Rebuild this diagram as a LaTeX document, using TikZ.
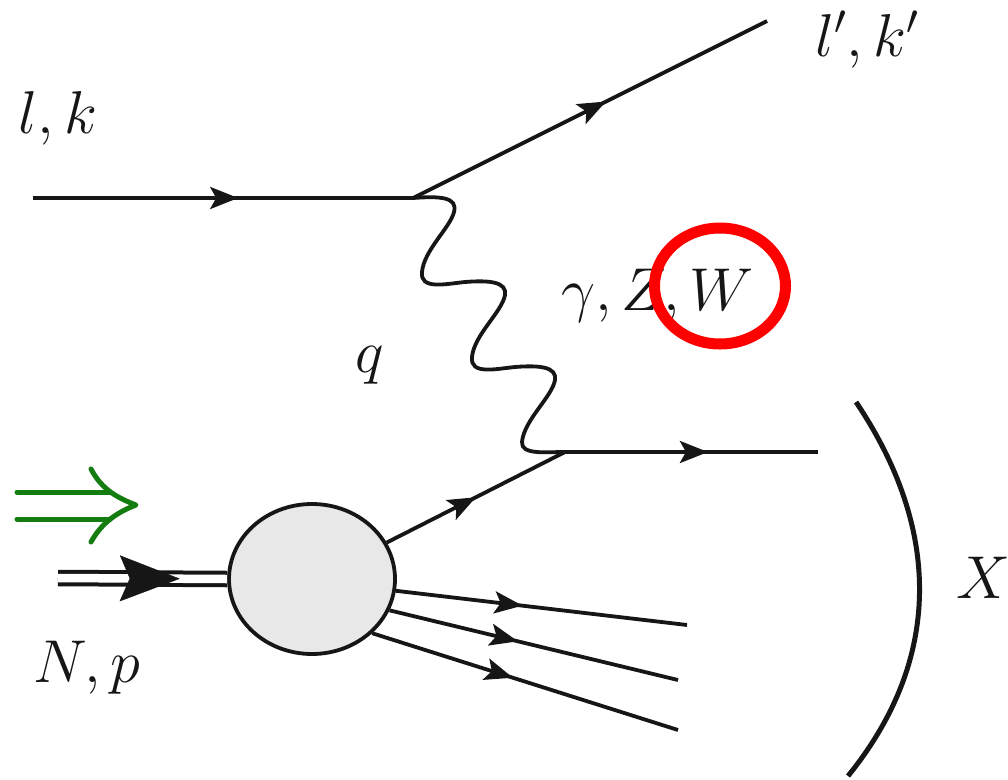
\documentclass[tikz,border=0pt]{standalone}
\usepackage{fix-cm}
\usetikzlibrary{arrows.meta,decorations.markings,shapes.geometric}
\definecolor{inkblack}{RGB}{22,22,22}
\definecolor{polgreen}{RGB}{20,125,15}
\definecolor{ringred}{RGB}{255,0,0}
\tikzset{
  line/.style={draw=inkblack, line width=3.8pt},
  fermion/.style={line, postaction={decorate}, decoration={markings,
    mark=at position #1 with {\arrow[inkblack]{Stealth[length=28pt,width=22pt,inset=6pt]}}}},
  polline/.style={draw=polgreen, line width=5pt, line cap=round, line join=round},
  mathlabel/.style={inner sep=0pt, text=inkblack, font=\fontsize{60.5}{72}\selectfont},
}
\begin{document}
\begin{tikzpicture}[x=1pt,y=-1pt]
\useasboundingbox (0,0) rectangle (1008,779);
% vertices
\coordinate (in) at (33,198);
\coordinate (v1) at (413,198);
\coordinate (out) at (767,21);
\coordinate (v2) at (565,452);
\coordinate (jet) at (818,452);
\coordinate (nuc) at (58,578);
\coordinate (hada) at (687,625);
\coordinate (hadb) at (678,680);
\coordinate (hadc) at (678,730);
\coordinate (pola) at (17,492);
\coordinate (polb) at (17,519);
\coordinate (polc) at (110,492);
\coordinate (pold) at (110,519);
\coordinate (tipa) at (91,469);
\coordinate (tipb) at (136,505);
\coordinate (tipc) at (91,542);
\coordinate (xa) at (856,402);
\coordinate (xb) at (848,776);
% blob
\node[ellipse, draw=inkblack, line width=3.8pt, fill=black!9, minimum width=166pt, minimum height=150pt, inner sep=0pt] (blob) at (312,579) {};
% lines
\draw[fermion=0.54] (in) -- (v1);
\draw[fermion=0.545] (v1) -- (out);
\draw[fermion=0.565] (v2) -- (jet);
\draw[fermion=0.5] (blob.26) -- (v2);
\draw[fermion=0.435] (blob.-8) -- (hada);
\draw[fermion=0.445] (blob.-22) -- (hadb);
\draw[fermion=0.46] (blob.-42) -- (hadc);
\draw[draw=inkblack, line width=4pt, double=white, double distance=8.5pt] (nuc) -- (blob.west);
\path[postaction={decorate}, decoration={markings, mark=at position 0.72 with {\arrow[inkblack]{Stealth[length=60pt,width=46pt,inset=10pt]}}}] (nuc) -- (blob.west);
% boson
\draw[line, line cap=round] (v1) .. controls (440,196) and (458,197) .. (454,212)
  .. controls (450,228) and (424,250) .. (422,272)
  .. controls (420,290) and (445,284) .. (465,282)
  .. controls (490,280) and (507,282) .. (505,295)
  .. controls (502,312) and (474,335) .. (472,357)
  .. controls (470,375) and (495,369) .. (515,367)
  .. controls (540,365) and (557,367) .. (555,380)
  .. controls (552,397) and (524,420) .. (522,442)
  .. controls (521,455) and (545,452) .. (v2);
% spin arrow
\draw[polline] (pola) -- (polc);
\draw[polline] (polb) -- (pold);
\draw[polline] (tipa) .. controls (102,490) and (118,498) .. (tipb) .. controls (118,512) and (102,522) .. (tipc);
% X bracket
\draw[draw=inkblack, line width=5pt] (xa) .. controls (942,530) and (942,660) .. (xb);
% labels
\node[mathlabel] (lk) at (58,118) {$l,k$};
\node[mathlabel] (lkp) at (867,40) {$l',k'$};
\node[mathlabel] (q) at (370,365) {$q$};
\node[mathlabel] (gzw) at (657.5,296) {$\gamma,Z,W$};
\node[mathlabel] (np) at (87,668) {$N,p$};
\node[mathlabel] (x) at (983,578) {$X$};
\node[ellipse, draw=ringred, line width=11pt, minimum width=131pt, minimum height=116pt, inner sep=0pt] (ring) at (720,286) {};
\end{tikzpicture}
\end{document}
